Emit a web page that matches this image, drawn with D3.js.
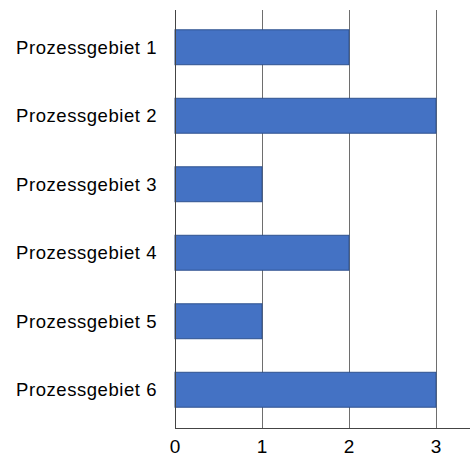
<!DOCTYPE html>
<html>
<head>
<meta charset="utf-8">
<script src="https://cdn.jsdelivr.net/npm/d3@7"></script>
<style>
  html, body { margin: 0; padding: 0; background: #fff; }
  svg { display: block; }
</style>
</head>
<body>
<svg id="chart" width="470" height="454"></svg>
<script>
// Process areas and their counts
const categories = ["Prozessgebiet 1", "Prozessgebiet 2", "Prozessgebiet 3", "Prozessgebiet 4", "Prozessgebiet 5", "Prozessgebiet 6"];
const values = [2, 3, 1, 2, 1, 3];
const tickValues = [0, 1, 2, 3];

const svg = d3.select("#chart");
const font = "Arial, 'Liberation Sans', Helvetica, sans-serif";

const x = d3.scaleLinear().domain([0, 3]).range([175, 436]);
const y = d3.scaleBand().domain(categories).range([13, 424]).paddingInner(0.49).paddingOuter(0.245);

const gridTop = 10, axisY = 428;

// vertical gridlines
svg.append("g").selectAll("line")
  .data(tickValues.filter(d => d > 0))
  .join("line")
  .attr("x1", d => Math.round(x(d)) + 0.5)
  .attr("x2", d => Math.round(x(d)) + 0.5)
  .attr("y1", gridTop)
  .attr("y2", axisY)
  .attr("stroke", "#6e6e6e")
  .attr("stroke-width", 1);

// bars
svg.append("g").selectAll("rect")
  .data(values)
  .join("rect")
  .attr("x", x(0))
  .attr("y", (d, i) => y(categories[i]))
  .attr("width", d => x(d) - x(0))
  .attr("height", y.bandwidth())
  .attr("fill", "#4472C4")
  .attr("stroke", "#2F528F")
  .attr("stroke-width", 1);

// left axis line
svg.append("line")
  .attr("x1", 175.5).attr("x2", 175.5)
  .attr("y1", gridTop).attr("y2", axisY)
  .attr("stroke", "#444").attr("stroke-width", 1);

// bottom axis line
svg.append("line")
  .attr("x1", 175).attr("x2", 470)
  .attr("y1", axisY + 0.5).attr("y2", axisY + 0.5)
  .attr("stroke", "#444").attr("stroke-width", 1);

// category labels
svg.append("g").selectAll("text")
  .data(categories)
  .join("text")
  .attr("x", 157)
  .attr("y", d => y(d) + y.bandwidth() / 2)
  .attr("dy", "0.35em")
  .attr("text-anchor", "end")
  .attr("font-family", font)
  .attr("font-size", 18.5)
  .attr("letter-spacing", "0.55px")
  .attr("fill", "#000")
  .text(d => d);

// tick labels
svg.append("g").selectAll("text")
  .data(tickValues)
  .join("text")
  .attr("x", d => x(d))
  .attr("y", 452.5)
  .attr("text-anchor", "middle")
  .attr("font-family", font)
  .attr("font-size", 19)
  .attr("fill", "#000")
  .text(d => d);
</script>
</body>
</html>
